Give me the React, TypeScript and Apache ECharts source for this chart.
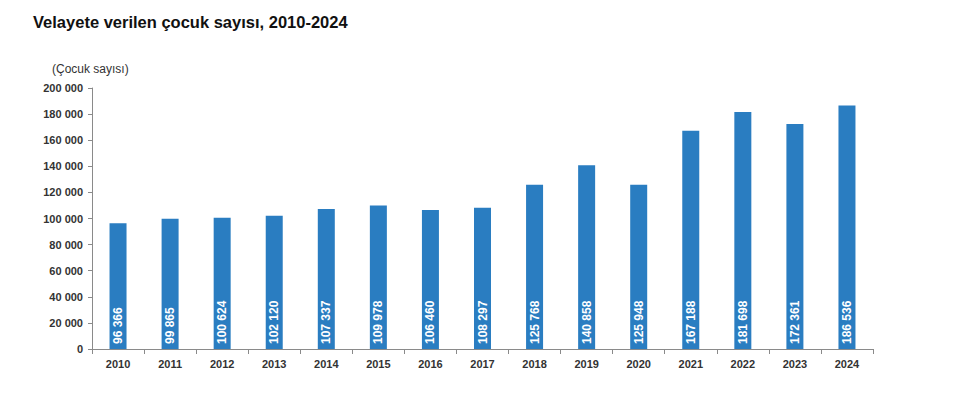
import React, { useEffect, useRef } from "react";
import * as echarts from "echarts";

const years = ["2010","2011","2012","2013","2014","2015","2016","2017","2018","2019","2020","2021","2022","2023","2024"];
const counts = [96366, 99865, 100624, 102120, 107337, 109978, 106460, 108297, 125768, 140858, 125948, 167188, 181698, 172361, 186536];
const title = "Velayete verilen çocuk sayısı, 2010-2024";
const unitLabel = "(Çocuk sayısı)";

const fmt = (v: number) => String(v).replace(/\B(?=(\d{3})+(?!\d))/g, " ");

export default function App() {
  const ref = useRef<HTMLDivElement>(null);
  useEffect(() => {
    const chart = echarts.init(ref.current!, undefined, { renderer: "svg" });
    const font = "'Liberation Sans', Arial, sans-serif";
    chart.setOption({
      animation: false,
      backgroundColor: "#ffffff",
      textStyle: { fontFamily: font },
      title: {
        text: title,
        left: 20,
        top: 0,
        textStyle: { fontSize: 16.5, fontWeight: "bold", color: "#111", fontFamily: font },
      },
      graphic: [
        {
          type: "text",
          left: 44,
          top: 55,
          style: { text: unitLabel, fontSize: 12, fill: "#333", fontFamily: font },
        },
      ],
      grid: { left: 84, right: 72, top: 80, bottom: 37, containLabel: false },
      xAxis: {
        type: "category",
        data: years,
        axisLine: { lineStyle: { color: "#8a8a8a" } },
        axisTick: { show: true, interval: 0, alignWithLabel: false, length: 5, lineStyle: { color: "#8a8a8a" } },
        axisLabel: { color: "#333", fontSize: 11, fontWeight: "bold", margin: 9, fontFamily: font },
        splitLine: { show: false },
      },
      yAxis: {
        type: "value",
        min: 0,
        max: 200000,
        interval: 20000,
        axisLine: { show: true, lineStyle: { color: "#8a8a8a" } },
        axisTick: { show: true, length: 4, lineStyle: { color: "#8a8a8a" } },
        axisLabel: { color: "#333", fontSize: 11, fontWeight: "bold", margin: 9, formatter: (v: number) => fmt(v), fontFamily: font },
        splitLine: { show: false },
      },
      series: [
        {
          type: "bar",
          data: counts,
          barWidth: 17,
          itemStyle: { color: "#2a7dc1" },
          label: {
            show: true,
            position: "insideBottom",
            rotate: 90,
            align: "left",
            verticalAlign: "middle",
            distance: 5,
            color: "#ffffff",
            fontSize: 12,
            fontWeight: "bold",
            fontFamily: font,
            formatter: (p: any) => fmt(p.value),
          },
        },
      ],
    });
    return () => chart.dispose();
  }, []);
  return <div ref={ref} style={{ width: 937, height: 378 }} />;
}
